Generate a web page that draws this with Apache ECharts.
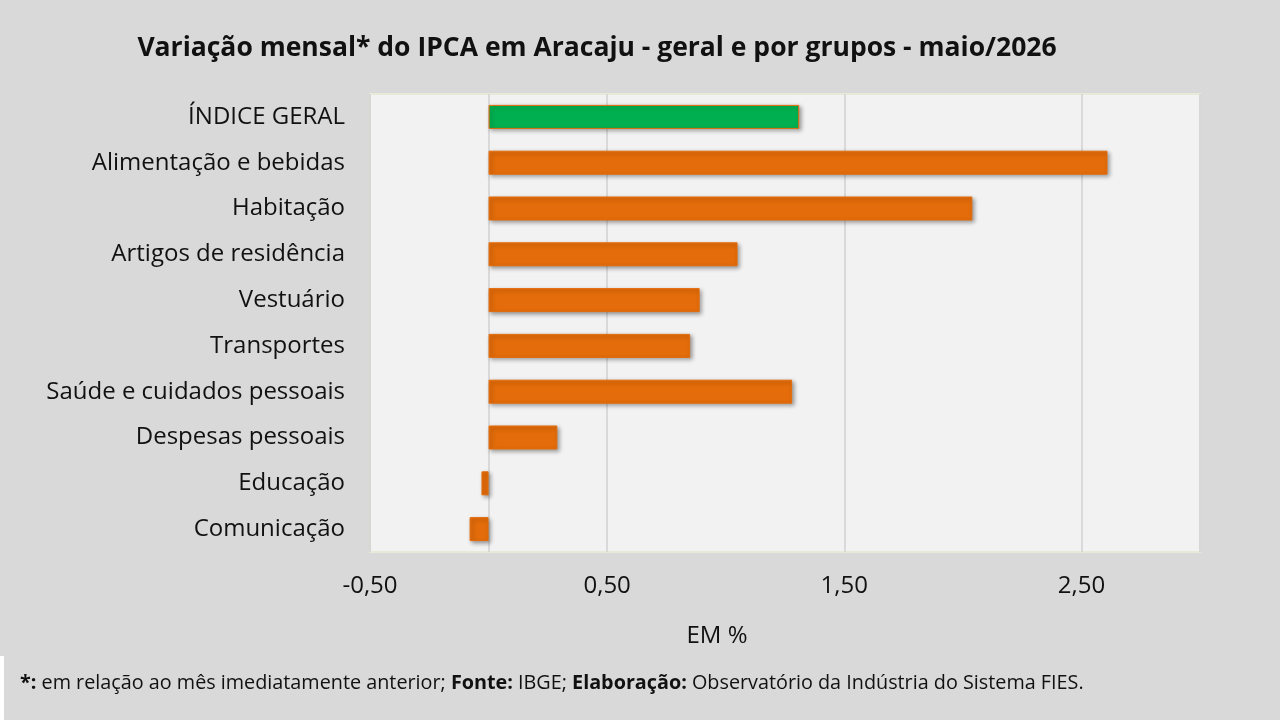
<!DOCTYPE html>
<html>
<head>
<meta charset="utf-8">
<script src="https://cdn.jsdelivr.net/npm/echarts@6/dist/echarts.min.js"></script>
<style>
  html, body { margin: 0; padding: 0; background: #d9d9d9; }
  #main { width: 1280px; height: 720px; }
</style>
</head>
<body>
<div id="main"></div>
<script>
var chart = echarts.init(document.getElementById('main'));

// grupos do IPCA, de cima para baixo
var categorias = [
  'ÍNDICE GERAL',
  'Alimentação e bebidas',
  'Habitação',
  'Artigos de residência',
  'Vestuário',
  'Transportes',
  'Saúde e cuidados pessoais',
  'Despesas pessoais',
  'Educação',
  'Comunicação'
];
// variação mensal em %
var variacao = [1.31, 2.61, 2.04, 1.05, 0.89, 0.85, 1.28, 0.29, -0.03, -0.08];

var laranja = '#e46c0a';
var verde = '#00b050';
var fonte = '"Open Sans", "Noto Sans", sans-serif';

var dados = variacao.map(function (v, i) {
  return {
    value: v,
    itemStyle: { color: i === 0 ? verde : laranja }
  };
});

var option = {
  backgroundColor: '#d9d9d9',
  textStyle: { fontFamily: fonte },
  title: {
    text: 'Variação mensal* do IPCA em Aracaju - geral e por grupos - maio/2026',
    left: 592,
    textAlign: 'center',
    top: 30,
    textStyle: { fontSize: 26.5, fontWeight: 'bold', color: '#111', fontFamily: fonte }
  },
  grid: {
    left: 370,
    right: 80,
    top: 94,
    bottom: 168,
    show: true,
    backgroundColor: '#f2f2f2',
    borderColor: '#e9e9da',
    borderWidth: 2
  },
  xAxis: {
    type: 'value',
    min: -0.5,
    max: 3,
    interval: 1,
    name: 'EM %',
    nameLocation: 'middle',
    nameGap: 72,
    nameTextStyle: { fontSize: 24, color: '#111', padding: [0, 136, 0, 0] },
    axisLine: { show: false },
    axisTick: { show: false },
    axisLabel: {
      fontSize: 24,
      color: '#111',
      margin: 22,
      showMaxLabel: false,
      formatter: function (v) { return v.toFixed(2).replace('.', ','); }
    },
    splitLine: { show: true, lineStyle: { color: '#d0d0d0', width: 1.5 } }
  },
  yAxis: {
    type: 'category',
    inverse: true,
    data: categorias,
    axisLine: { show: false },
    axisTick: { show: false },
    axisLabel: { fontSize: 24, color: '#111', margin: 25 }
  },
  series: [{
    type: 'bar',
    data: dados,
    barWidth: 24,
    itemStyle: {
      borderColor: laranja,
      borderWidth: 1,
      shadowColor: 'rgba(0,0,0,0.35)',
      shadowBlur: 4,
      shadowOffsetX: 2,
      shadowOffsetY: 2
    },
    markLine: {
      silent: true,
      symbol: 'none',
      label: { show: false },
      lineStyle: { color: '#d0d0d0', width: 1.5, type: 'solid' },
      data: [{ xAxis: 0 }],
      z: 1
    },
    z: 3
  }],
  graphic: [
    {
      type: 'rect',
      left: 0,
      top: 656,
      shape: { width: 4, height: 64 },
      style: { fill: '#ffffff' }
    },
    {
      type: 'text',
      left: 20,
      top: 673,
      style: {
        text: '{b|*:} em relação ao mês imediatamente anterior; {b|Fonte:} IBGE; {b|Elaboração:} Observatório da Indústria do Sistema FIES.',
        fontSize: 19.8,
        fontFamily: fonte,
        fill: '#111',
        rich: {
          b: { fontWeight: 'bold', fontSize: 19.8, fontFamily: fonte, fill: '#111' }
        }
      }
    }
  ]
};

chart.setOption(option);
</script>
</body>
</html>
